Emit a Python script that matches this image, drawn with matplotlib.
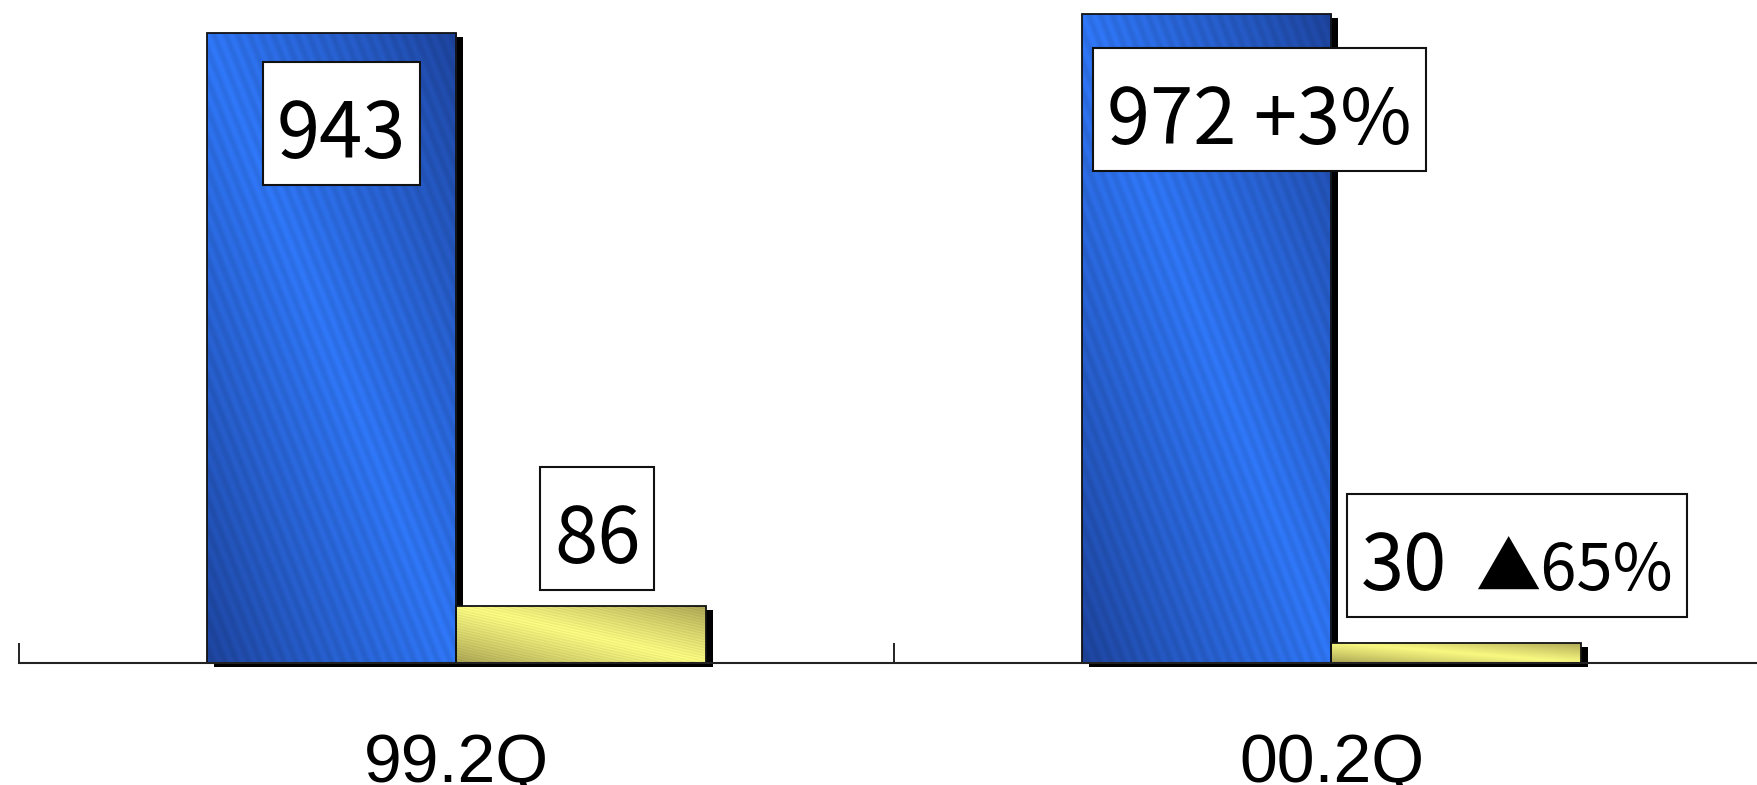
import numpy as np
import matplotlib.pyplot as plt
from matplotlib.patches import Rectangle
from matplotlib.transforms import IdentityTransform, offset_copy
from matplotlib.colors import to_rgb

plt.rcParams['font.family'] = ['Noto Sans CJK JP', 'DejaVu Sans']

# data
quarters = ['99.2Q', '00.2Q']
blue_vals = [943, 972]
yellow_vals = [86, 30]
blue_labels = [[('943', 56)], [('972 +3%', 56)]]
yellow_labels = [[('86', 56)], [('30', 56), ('▲65%', 47)]]

# label placement: (dx, dy) in pixels from bar top centre to the text baseline centre
blue_off = [(10, -125), (53, -130)]
yellow_off = [(16, 43), (61, 53)]

W = 0.285
BOX_UP, BOX_DOWN, BOX_PADX = 96, 27, 14


def bar_texture(light, dark, nx=260, ny=700, nstripes=21):
    u = np.linspace(0, 1, nx)[None, :]
    v = np.linspace(0, 1, ny)[:, None]
    s = u + v
    shade = np.clip(1 - np.abs(s - 1) * 0.9, 0, 1) ** 0.8
    stripe = 0.5 + 0.5 * np.cos(2 * np.pi * s * nstripes)
    light = np.array(to_rgb(light))
    dark = np.array(to_rgb(dark))
    img = dark + (light - dark) * shade[..., None]
    img = img * (0.93 + 0.09 * stripe[..., None])
    return np.clip(img, 0, 1)


fig = plt.figure(figsize=(17.58, 7.85), dpi=100)
ax = fig.add_axes([19 / 1758, 122 / 785, 1750 / 1758, 663 / 785])

x = np.arange(len(quarters))
bars = []
for xs, vals, light, dark in [(x - W, blue_vals, '#2f76f6', '#1a3a8c'),
                               (x, yellow_vals, '#ffff84', '#9c944a')]:
    tex = bar_texture(light, dark)
    shadow_tr = offset_copy(ax.transData, fig=fig, x=7, y=-4, units='dots')
    for x0, h in zip(xs, vals):
        ax.add_patch(Rectangle((x0, 0), W, h, facecolor='black', edgecolor='none',
                               transform=shadow_tr, zorder=1, clip_on=False))
        im = ax.imshow(tex, extent=[x0, x0 + W, 0, h], origin='lower',
                       aspect='auto', interpolation='bilinear', zorder=2)
        rect = Rectangle((x0, 0), W, h, facecolor='none', edgecolor='#111111',
                         linewidth=1.3, zorder=2.2)
        ax.add_patch(rect)
        im.set_clip_path(rect)
        bars.append((x0 + W / 2, h))

ax.set_xlim(-0.5, 1.5)
ax.set_ylim(0, 993)
ax.set_yticks([])
for side in ['top', 'left', 'right']:
    ax.spines[side].set_visible(False)
ax.spines['bottom'].set_linewidth(1.5)
ax.spines['bottom'].set_color('#222222')
ax.set_xticks([-0.5, 0.5, 1.5], labels=['', '', ''])
ax.tick_params(axis='x', which='major', direction='in', length=14.5, width=1.4,
               color='#222222')
ax.set_xticks(x, labels=quarters, minor=True)
ax.tick_params(axis='x', which='minor', length=0, pad=49.5, labelsize=49,
               labelfontfamily='Liberation Sans')

# value labels in white boxes
fig.canvas.draw()
renderer = fig.canvas.get_renderer()
ident = IdentityTransform()
labels = blue_labels + yellow_labels
offsets = blue_off + yellow_off
for parts, (dx, dy), (bx, bh) in zip(labels, offsets, bars):
    px, py = ax.transData.transform((bx, bh))
    cx, base = px + dx, py + dy
    texts = [fig.text(0, 0, s, fontsize=fs, ha='left', va='baseline',
                      transform=ident, zorder=5) for s, fs in parts]
    widths = [t.get_window_extent(renderer).width for t in texts]
    gap = 28 if len(parts) > 1 else 0
    total = sum(widths) + gap * (len(parts) - 1)
    xl = cx - total / 2
    for t, w in zip(texts, widths):
        t.set_position((xl, base))
        xl += w + gap
    fig.add_artist(Rectangle((cx - total / 2 - BOX_PADX, base - BOX_DOWN),
                             total + 2 * BOX_PADX, BOX_UP + BOX_DOWN,
                             facecolor='white', edgecolor='#111111', linewidth=1.5,
                             transform=ident, zorder=4))

fig.savefig('out.png', dpi=100)
